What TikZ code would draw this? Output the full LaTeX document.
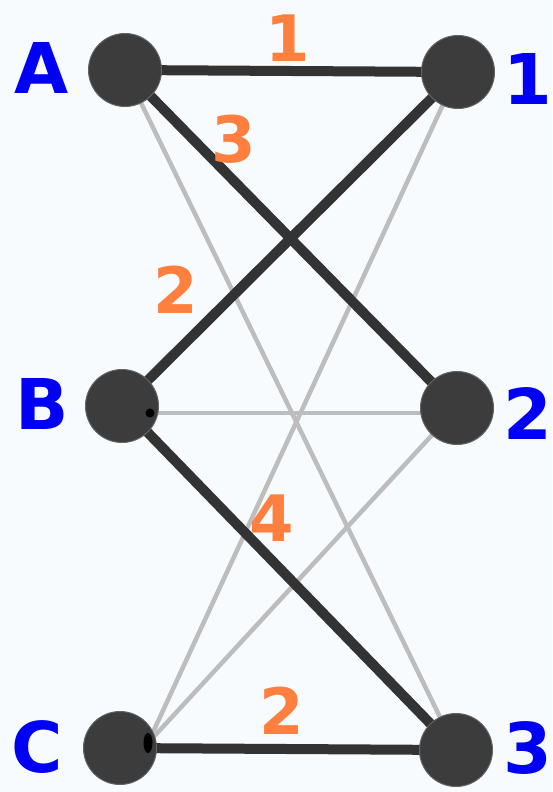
\documentclass[tikz,border=0pt]{standalone}
\usepackage{fontspec}
\setmainfont{DejaVu Sans}
\definecolor{bgc}{HTML}{F8FBFD}
\definecolor{vert}{HTML}{3C3C3C}
\definecolor{heavy}{HTML}{333333}
\definecolor{light}{HTML}{BDBDBD}
\definecolor{lblue}{HTML}{0000F5}
\definecolor{wor}{HTML}{FF7F3F}
\tikzset{
  vtx/.style={circle,fill=vert,draw=vert!80!white,line width=1pt,minimum size=73pt,inner sep=0pt},
  heavyedge/.style={draw=heavy,line width=10pt},
  lightedge/.style={draw=light,line width=4.5pt},
  vname/.style={text=lblue,font=\bfseries\fontsize{70}{70}\selectfont,inner sep=0pt},
  wlabel/.style={text=wor,font=\bfseries\fontsize{64}{64}\selectfont,inner sep=0pt},
  jdot/.style={fill=black,inner sep=0pt,ellipse,minimum width=9pt,minimum height=9pt}
}
\usetikzlibrary{shapes.geometric}
\begin{document}
\begin{tikzpicture}[x=1pt,y=-1pt]
\useasboundingbox[fill=bgc] (0,0) rectangle (552,792);
% vertex positions
\coordinate (pA) at (125,70);
\coordinate (p1) at (458,72);
\coordinate (pB) at (122,406);
\coordinate (p2) at (457,408);
\coordinate (pC) at (120,748);
\coordinate (p3) at (456,750);
% light edges
\draw[lightedge] (pA) -- (p3);
\draw[lightedge] (150,413) coordinate (bd) -- (bd -| p2);
\draw[lightedge] (148,743) coordinate (cd) -- (p1);
\draw[lightedge] (cd) -- (p2);
% heavy edges
\draw[heavyedge] (pA) -- (p1);
\draw[heavyedge] (pA) -- (p2);
\draw[heavyedge] (pB) -- (p1);
\draw[heavyedge] (pB) -- (p3);
\draw[heavyedge] (pC) -- (p3);
% vertices
\node[vtx] (A) at (pA) {};
\node[vtx] (n1) at (p1) {};
\node[vtx] (B) at (pB) {};
\node[vtx] (n2) at (p2) {};
\node[vtx] (C) at (pC) {};
\node[vtx] (n3) at (p3) {};
% junction dots
\node[jdot] (dB) at (bd) {};
\node[jdot,minimum width=9pt,minimum height=20pt] (dC) at (cd) {};
% vertex names
\node[vname] (lA) at (42,68) {A};
\node[vname] (l1) at (528,79) {1};
\node[vname] (lB) at (42,404) {B};
\node[vname] (l2) at (528,414) {2};
\node[vname] (lC) at (37,747) {C};
\node[vname] (l3) at (528,748) {3};
% weights
\node[wlabel] (w1) at (288,38) {1};
\node[wlabel] (w3) at (234,139) {3};
\node[wlabel] (w2a) at (176,290) {2};
\node[wlabel] (w4) at (272,518) {4};
\node[wlabel] (w2b) at (282,711) {2};
\end{tikzpicture}
\end{document}
